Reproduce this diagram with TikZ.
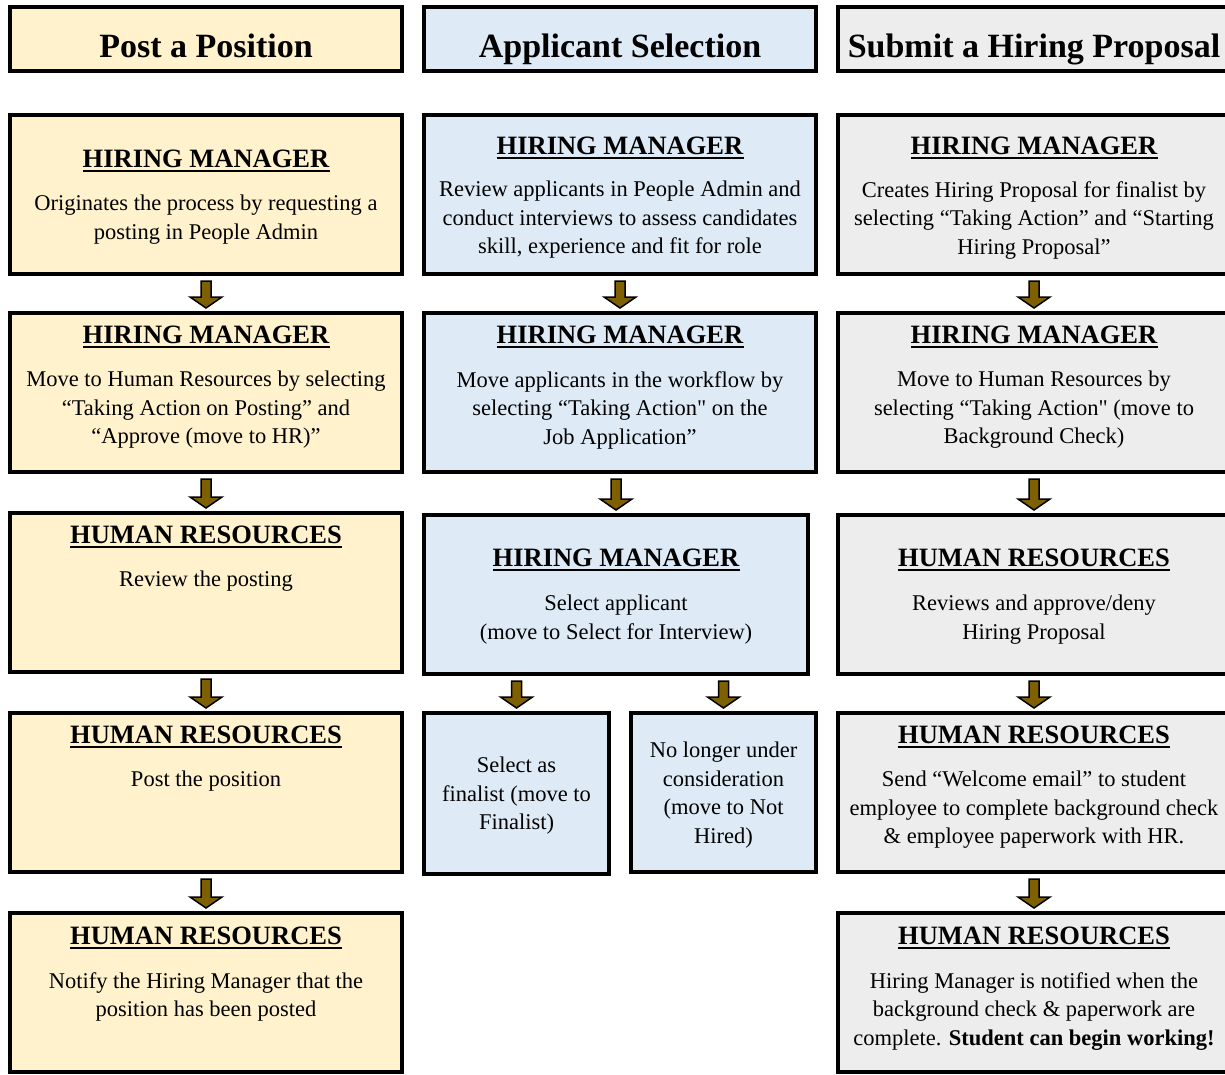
\documentclass[tikz,border=0pt]{standalone}
\usepackage{fontspec}
\setmainfont{Liberation Serif}
\newfontfamily\rawfont{Liberation Serif}[Ligatures=TeXOff]
\usetikzlibrary{calc}
\definecolor{cy}{HTML}{FFF2CC}
\definecolor{cb}{HTML}{DEEBF7}
\definecolor{cg}{HTML}{EDEDED}
\definecolor{arr}{HTML}{7F6000}
\newcommand\sq{{\rawfont\symbol{34}}}
\tikzset{
  box/.style={draw=black, line width=4pt, inner sep=0pt, minimum width=392pt, minimum height=159pt},
  ttl/.style={font=\fontsize{34}{40}\selectfont\bfseries, inner sep=0pt, anchor=base},
  hd/.style={font=\fontsize{26.5}{30}\selectfont\bfseries, inner sep=0pt, anchor=base},
  bd/.style={font=\fontsize{22.5}{28.5}\selectfont, align=center, inner sep=0pt, anchor=north},
  ul/.style={line width=2.5pt},
  flowarrow/.style={fill=arr, draw=black, line width=1.5pt, line join=miter},
}
\newcommand\hdnode[4]{%
  \node[hd] (#1) at (#2,#3+9) {#4};
  \draw[ul] ([yshift=-4pt]#1.base west) -- ([yshift=-4pt]#1.base east);}
\newcommand\bdnode[4]{%
  \node[bd] (#1) at (#2,#3-8) {#4};}
\newcommand\blockarr[2]{%
  \path (#2.north |- #1.south) coordinate (s) (#2.north) coordinate (e);
  \draw[flowarrow] ($(s)+(-5,5)$) -- ($(s)+(5,5)$) -- ($(e)+(5,-14)$) -- ($(e)+(16,-14)$)
    -- ($(e)+(0,-3)$) -- ($(e)+(-16,-14)$) -- ($(e)+(-5,-14)$) -- cycle;}
\begin{document}
\begin{tikzpicture}[x=1pt,y=-1pt]
\useasboundingbox (0,0) rectangle (1225,1074);
\fill[white] (0,0) rectangle (1225,1074);
% title boxes
\node[box, fill=cy, minimum height=64pt] (t1) at (206,39) {};
\node[box, fill=cb, minimum height=64pt] (t2) at (620,39) {};
\node[box, fill=cg, minimum height=64pt] (t3) at (1034,39) {};
\node[ttl] (t1t) at (206,57) {Post a Position};
\node[ttl] (t2t) at (620,57) {Applicant Selection};
\node[ttl] (t3t) at (1034,57) {Submit a Hiring Proposal};
% column 1
\node[box, fill=cy] (a1) at (206,194.5) {};
\node[box, fill=cy] (a2) at (206,392.5) {};
\node[box, fill=cy] (a3) at (206,592.5) {};
\node[box, fill=cy] (a4) at (206,792.5) {};
\node[box, fill=cy] (a5) at (206,992.5) {};
% column 2
\node[box, fill=cb] (b1) at (620,194.5) {};
\node[box, fill=cb] (b2) at (620,392.5) {};
\node[box, fill=cb, minimum width=384pt] (b3) at (616,594.5) {};
\node[box, fill=cb, minimum width=185pt, minimum height=161pt] (b4) at (516.5,793.5) {};
\node[box, fill=cb, minimum width=185pt] (b5) at (723.5,792.5) {};
% column 3
\node[box, fill=cg] (c1) at (1034,194.5) {};
\node[box, fill=cg] (c2) at (1034,392.5) {};
\node[box, fill=cg] (c3) at (1034,594.5) {};
\node[box, fill=cg] (c4) at (1034,792.5) {};
\node[box, fill=cg] (c5) at (1034,992.5) {};
% arrows
\blockarr{a1}{a2}\blockarr{a2}{a3}\blockarr{a3}{a4}\blockarr{a4}{a5}
\blockarr{b1}{b2}\blockarr{b2}{b3}\blockarr{b3}{b4}\blockarr{b3}{b5}
\blockarr{c1}{c2}\blockarr{c2}{c3}\blockarr{c3}{c4}\blockarr{c4}{c5}
% column 1 texts
\hdnode{ha1}{206}{158}{HIRING MANAGER}
\bdnode{ta1}{206}{203}{Originates the process by requesting a\\posting in People Admin}
\hdnode{ha2}{206}{334}{HIRING MANAGER}
\bdnode{ta2}{206}{379}{Move to Human Resources by selecting\\“Taking Action on Posting” and\\“Approve (move to HR)”}
\hdnode{ha3}{206}{534}{HUMAN RESOURCES}
\bdnode{ta3}{206}{579}{Review the posting}
\hdnode{ha4}{206}{734}{HUMAN RESOURCES}
\bdnode{ta4}{206}{779}{Post the position}
\hdnode{ha5}{206}{935}{HUMAN RESOURCES}
\bdnode{ta5}{206}{980}{Notify the Hiring Manager that the\\position has been posted}
% column 2 texts
\hdnode{hb1}{620}{145}{HIRING MANAGER}
\bdnode{tb1}{620}{189}{Review applicants in People Admin and\\conduct interviews to assess candidates\\skill, experience and fit for role}
\hdnode{hb2}{620}{334}{HIRING MANAGER}
\bdnode{tb2}{620}{379}{Move applicants in the workflow by\\selecting “Taking Action\sq{} on the\\Job Application”}
\hdnode{hb3}{616}{557}{HIRING MANAGER}
\bdnode{tb3}{616}{603}{Select applicant\\(move to Select for Interview)}
\bdnode{tb4}{516.5}{765}{Select as\\finalist (move to\\Finalist)}
\bdnode{tb5}{723.5}{750}{No longer under\\consideration\\(move to Not\\Hired)}
% column 3 texts
\hdnode{hc1}{1034}{145}{HIRING MANAGER}
\bdnode{tc1}{1034}{189}{Creates Hiring Proposal for finalist by\\selecting “Taking Action” and “Starting\\Hiring Proposal”}
\hdnode{hc2}{1034}{334}{HIRING MANAGER}
\bdnode{tc2}{1034}{379}{Move to Human Resources by\\selecting “Taking Action\sq{} (move to\\Background Check)}
\hdnode{hc3}{1034}{557}{HUMAN RESOURCES}
\bdnode{tc3}{1034}{603}{Reviews and approve/deny\\Hiring Proposal}
\hdnode{hc4}{1034}{734}{HUMAN RESOURCES}
\bdnode{tc4}{1034}{779}{Send “Welcome email” to student\\employee to complete background check\\\& employee paperwork with HR.}
\hdnode{hc5}{1034}{935}{HUMAN RESOURCES}
\bdnode{tc5}{1034}{980}{Hiring Manager is notified when the\\background check \& paperwork are\\complete. \textbf{Student can begin working!}}
\end{tikzpicture}
\end{document}
